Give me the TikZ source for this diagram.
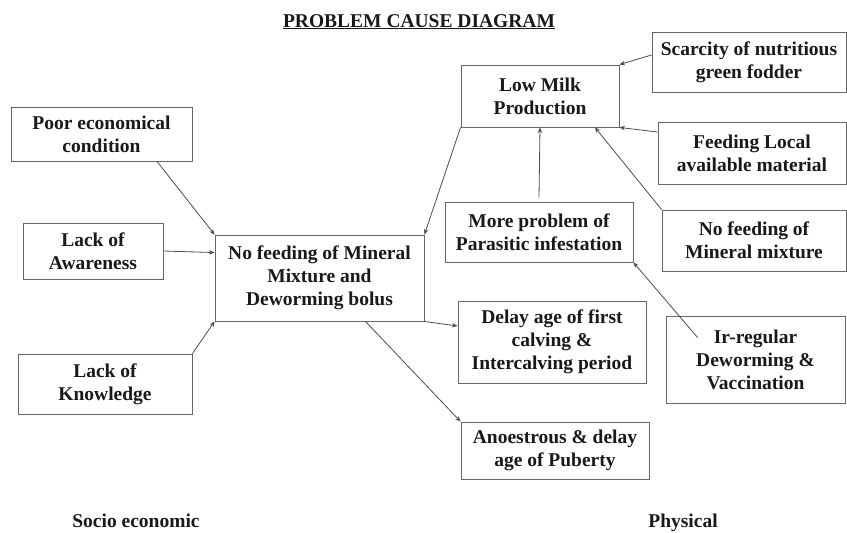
\documentclass[tikz,border=0pt]{standalone}
\usepackage{fontspec}
\setmainfont{Liberation Serif}
\usetikzlibrary{arrows.meta,calc}
\begin{document}
\begin{tikzpicture}[x=1pt,y=-1pt,
  every node/.style={font=\bfseries\fontsize{19.5}{23}\selectfont, text=black!90},
  cbox/.style={draw=black!60, line width=0.9pt, align=center, inner sep=0pt},
  conn/.style={draw=black!70, line width=0.8pt, -{Stealth[length=5.5pt,width=4.5pt]}},
  plain/.style={align=center, inner sep=0pt}]
\useasboundingbox (0,0) rectangle (847,533);
% title
\node[plain, anchor=base] (title) at (419,27) {\underline{PROBLEM CAUSE DIAGRAM}};
% left side
\node[cbox, minimum width=181, minimum height=54] (poor) at (101.5,134) {Poor economical\\condition};
\node[cbox, minimum width=140, minimum height=56] (aware) at (93,251) {Lack of\\Awareness};
\node[cbox, minimum width=174, minimum height=60] (know) at (105,384) {Lack of\\Knowledge};
\node[cbox, minimum width=209, minimum height=86] (main) at (319.5,278) {No feeding of Mineral\\Mixture and\\Deworming bolus};
% right side
\node[cbox, minimum width=158, minimum height=62] (milk) at (540,96) {Low Milk\\Production};
\node[cbox, minimum width=194, minimum height=60] (scar) at (749,62) {Scarcity of nutritious\\green fodder};
\node[cbox, minimum width=188, minimum height=62] (local) at (752,153) {Feeding Local\\available material};
\node[cbox, minimum width=188, minimum height=60] (para) at (539,232) {More problem of\\Parasitic infestation};
\node[cbox, minimum width=184, minimum height=61] (nomin) at (754,240.5) {No feeding of\\Mineral mixture};
\node[cbox, minimum width=188, minimum height=82] (delay) at (552,342) {Delay age of first\\calving \&\\Intercalving period};
\node[cbox, minimum width=179, minimum height=87] (irreg) at (755.5,359.5) {Ir-regular\\Deworming \&\\Vaccination};
\node[cbox, minimum width=188, minimum height=57] (anoe) at (555,450.5) {Anoestrous \& delay\\age of Puberty};
% bottom labels
\node[plain, anchor=base] (socio) at (136,527) {Socio economic};
\node[plain, anchor=base] (phys) at (683,527) {Physical};
% connectors
\draw[conn] ($(poor.south)+(55.5,0)$) -- (main.north west);
\draw[conn] (aware.east) -- ($(main.north west)+(0,18)$);
\draw[conn] (know.north east) -- (main.south west);
\draw[conn] (milk.south west) -- (main.north east);
\draw[conn] (main.south east) -- ($(delay.west)+(0,-16)$);
\draw[conn] ($(main.south)+(46,0)$) -- (anoe.north west);
\draw[conn] ($(para.north)+(0,-4)$) -- (milk.south);
\draw[conn] (nomin.north west) -- ($(milk.south)+(55,0)$);
\draw[conn] ($(scar.west)+(0,-7)$) -- (milk.north east);
\draw[conn] ($(local.west)+(0,-21)$) -- (milk.south east);
\draw[conn] ($(irreg.north west)+(32,22)$) -- (para.south east);
\end{tikzpicture}
\end{document}
